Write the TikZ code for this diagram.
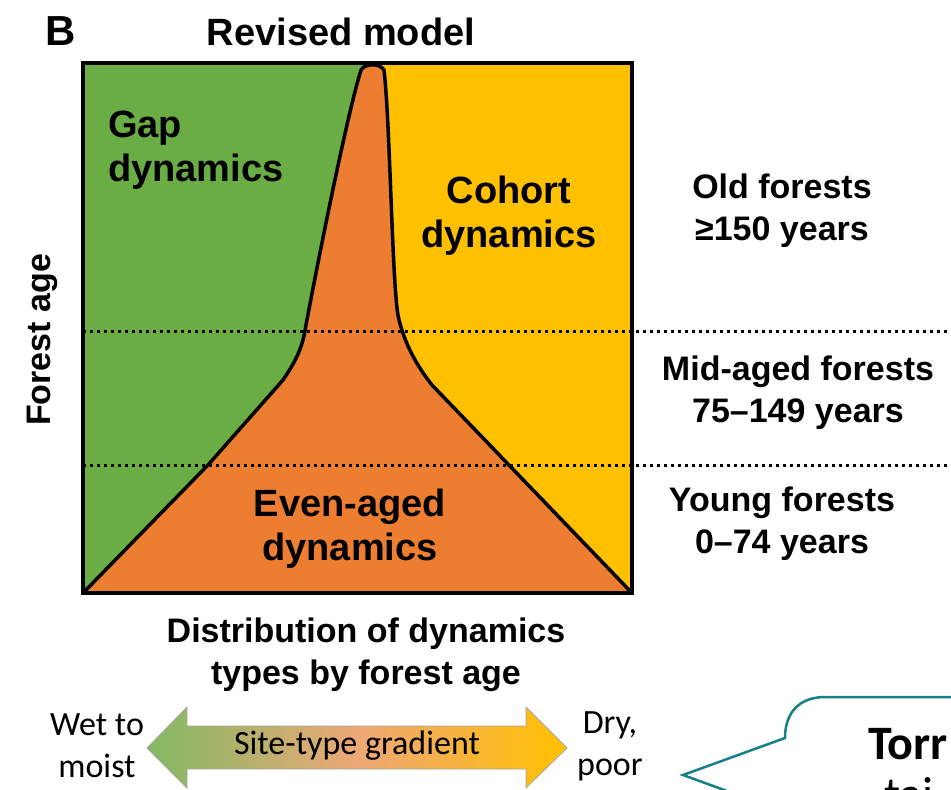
\documentclass[tikz,border=0pt]{standalone}
\usepackage{fontspec}
\setmainfont{Liberation Sans}
\newfontfamily\calib{Carlito}
\definecolor{gapgreen}{RGB}{106,173,69}
\definecolor{evenorange}{RGB}{237,125,49}
\definecolor{cohortgold}{RGB}{255,192,0}
\definecolor{peach}{RGB}{238,168,120}
\definecolor{callteal}{RGB}{22,128,136}

\begin{document}
\begin{tikzpicture}[x=1pt,y=-1pt,
		big/.style={font=\fontsize{38}{44}\selectfont\bfseries, align=center, inner sep=0pt},
		age/.style={font=\fontsize{34}{42}\selectfont\bfseries, align=center, inner sep=0pt},
		site/.style={font=\calib\fontsize{34}{42}\selectfont, align=center, inner sep=0pt},
		border/.style={line width=3.5pt, line join=round},
		agebreak/.style={line width=3pt, dash pattern=on 3pt off 4pt}]
	\useasboundingbox (0,0) rectangle (951,790);
	\clip (0,0) rectangle (951,790);
	\coordinate (nw) at (83,63);
	\coordinate (ne) at (632,63);
	\coordinate (sw) at (83,593);
	\coordinate (se) at (632,593);
	% background halves
	\fill[gapgreen] (nw) rectangle (373,593);
	\fill[cohortgold] (373,63) rectangle (se);
	% even-aged wedge
	\filldraw[evenorange, draw=black, border] (sw) -- (208,465) -- (283,380)
		.. controls (298,358) and (303,345) .. (306,325)
		.. controls (322,240) and (348,112) .. (361,70)
		.. controls (365,63) and (380,63) .. (384,70)
		.. controls (390,120) and (392,280) .. (398,315)
		.. controls (402,335) and (412,360) .. (432,385)
		-- (se) -- cycle;
	% age class limits
	\draw[agebreak] (83,331) -- (951,331);
	\draw[agebreak] (83,465) -- (951,465);
	\draw[line width=4.5pt] (nw) rectangle (se);
	% labels
	\node[font=\fontsize{42}{44}\selectfont\bfseries, inner sep=0pt] (panel) at (61,31) {B};
	\node[big] (title) at (341,32) {Revised model};
	\node[big, anchor=west, align=left] (gap) at (108,150) {Gap\\dynamics};
	\node[big] (cohort) at (509,216) {Cohort\\dynamics};
	\node[big] (even) at (350,529) {Even-aged\\dynamics};
	\node[age] (old) at (782,211) {Old forests\\≥150 years};
	\node[age] (mid) at (798,393) {Mid-aged forests\\75–149 years};
	\node[age] (young) at (782,524) {Young forests\\0–74 years};
	\node[age, rotate=90] (axis) at (42,340) {Forest age};
	\node[age] (dist) at (366,655) {Distribution of dynamics\\types by forest age};
	% site-type arrow
	\draw[gray!70, line width=0.8pt, left color=gapgreen!85!white, right color=cohortgold, middle color=peach]
		(147,748) -- (187,707) -- (187,726) -- (526,726) -- (526,707) -- (567,748)
		-- (526,788) -- (526,769) -- (187,769) -- (187,788) -- cycle;
	\node[site] (gradient) at (357,746) {Site-type gradient};
	\node[site] (wet) at (97,746) {Wet to\\moist};
	\node[site] (dry) at (610,746) {Dry,\\poor};
	% callout
	\draw[callteal, line width=2.5pt, line join=miter] (960,697) -- (825,697)
		.. controls (800,697) and (785,712) .. (785,738) -- (683,775) -- (760,803);
	\node[font=\calib\fontsize{48}{54}\selectfont\bfseries, anchor=base west, inner sep=0pt] (torr) at (868,759) {Torr};
	\node[font=\calib\fontsize{48}{54}\selectfont, anchor=base west, inner sep=0pt] (tai) at (884,810) {tai};
\end{tikzpicture}
\end{document}
